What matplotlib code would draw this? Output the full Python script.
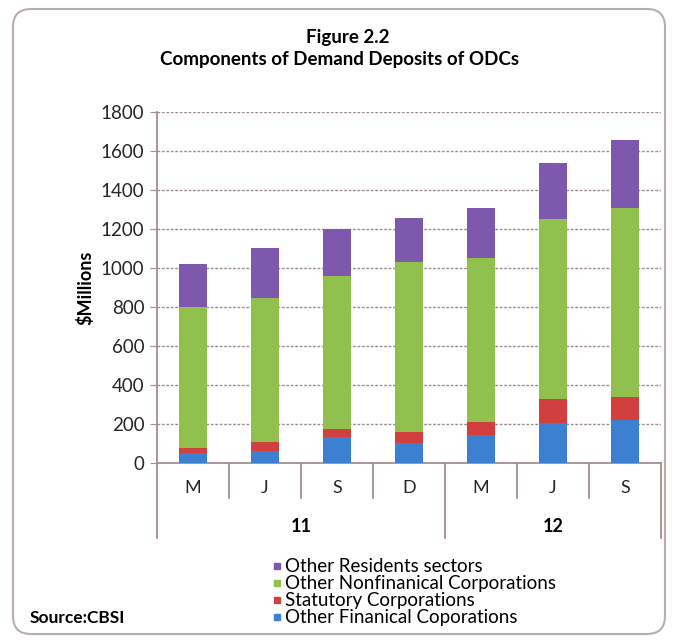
import matplotlib.pyplot as plt
import matplotlib.patches as mpatches
import matplotlib.transforms as mtrans
from matplotlib.lines import Line2D
import numpy as np

plt.rcParams['font.family'] = ['Lato', 'DejaVu Sans']

months = ['M', 'J', 'S', 'D', 'M', 'J', 'S']
years = ['11', '12']
year_span = [(0, 3), (4, 6)]   # first and last month index of each year

fin_corp = [50, 63, 132, 101, 145, 205, 221]
statutory = [25, 47, 43, 56, 64, 124, 116]
nonfin_corp = [724, 737, 782, 873, 842, 924, 972]
other_res = [222, 255, 243, 228, 258, 285, 346]

labels = ['Other Finanical Coporations', 'Statutory Corporations',
          'Other Nonfinanical Corporations', 'Other Residents sectors']
colors = ['#3d7fd0', '#d23f3f', '#92c04e', '#7d58ad']

fig = plt.figure(figsize=(6.77, 6.41), dpi=100)
ax = fig.add_axes([157/677, 1 - 463/641, 504/677, 351/641])

x = np.arange(len(months))
bottom = np.zeros(len(months))
for vals, col in zip([fin_corp, statutory, nonfin_corp, other_res], colors):
    ax.bar(x, vals, width=0.39, bottom=bottom, color=col, zorder=3)
    bottom += np.array(vals)

ax.set_xlim(-0.5, len(months) - 0.5)
ax.set_ylim(0, 1800)
ax.set_yticks(range(0, 1801, 200))
ax.yaxis.grid(True, color='#a08e8c', linestyle=(0, (2, 1.2)), linewidth=1.0, zorder=0)
ax.tick_params(axis='y', length=5, color='#a0908c', labelsize=13.5, pad=4,
               labelcolor='#262626')
ax.tick_params(axis='x', length=0)
ax.set_xticks([])
for s in ['top', 'right']:
    ax.spines[s].set_visible(False)
for s in ['left', 'bottom']:
    ax.spines[s].set_color('#a0908c')
    ax.spines[s].set_linewidth(1.3)
ax.set_ylabel('$Millions', fontsize=13, fontweight='bold', labelpad=5)

# two-level category axis: months, then years
trans = mtrans.blended_transform_factory(ax.transData, ax.transAxes)
starts = [a for a, b in year_span]
for i in range(len(months) + 1):
    edge = i - 0.5
    long_tick = i in starts or i == len(months)
    depth = -0.214 if long_tick else -0.1
    ax.plot([edge, edge], [0, depth], transform=trans, color='#a0908c',
            lw=1.3, clip_on=False)
for i, m in enumerate(months):
    ax.text(i, -0.072, m, transform=trans, ha='center', va='center', fontsize=13,
            color='#262626')
for yr, (a, b) in zip(years, year_span):
    ax.text((a + b) / 2, -0.182, yr, transform=trans, ha='center', va='center',
            fontsize=13, fontweight='bold')

fig.text(348/677, 1 - 37/641, 'Figure 2.2', ha='center', va='center',
         fontsize=13.5, fontweight='bold')
fig.text(340/677, 1 - 60/641, 'Components of Demand Deposits of ODCs', ha='center',
         va='center', fontsize=13.5, fontweight='bold')

handles = [Line2D([], [], marker='s', color=c, linestyle='none', markersize=5)
           for c in colors[::-1]]
fig.legend(handles, labels[::-1], loc='upper left', bbox_to_anchor=(262/677, 1 - 549/641),
           frameon=False, fontsize=13.5, handlelength=0.6, handletextpad=0.15,
           labelspacing=0.0, borderpad=0)

fig.text(30/677, 1 - 618/641, 'Source:CBSI', ha='left', va='center',
         fontsize=12.5, fontweight='bold')

frame = mpatches.FancyBboxPatch((13, 7), 652, 625,
                                boxstyle='round,pad=0,rounding_size=18',
                                transform=mtrans.IdentityTransform(),
                                facecolor='none', edgecolor='#b9aeac', linewidth=1.5)
fig.patches.append(frame)

fig.savefig('out.png', dpi=100)
